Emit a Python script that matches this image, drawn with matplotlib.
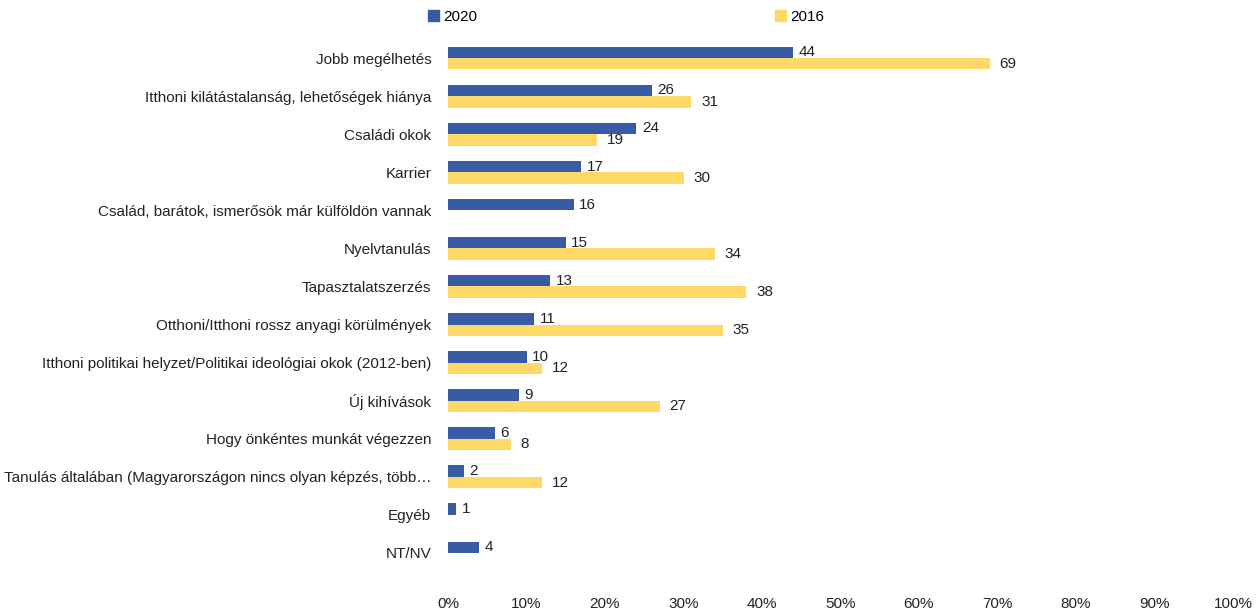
import matplotlib
matplotlib.use("Agg")
import matplotlib.pyplot as plt
from matplotlib.patches import Patch
import numpy as np

categories = [
    "Jobb megélhetés",
    "Itthoni kilátástalanság, lehetőségek hiánya",
    "Családi okok",
    "Karrier",
    "Család, barátok, ismerősök már külföldön vannak",
    "Nyelvtanulás",
    "Tapasztalatszerzés",
    "Otthoni/Itthoni rossz anyagi körülmények",
    "Itthoni politikai helyzet/Politikai ideológiai okok (2012-ben)",
    "Új kihívások",
    "Hogy önkéntes munkát végezzen",
    "Tanulás általában (Magyarországon nincs olyan képzés, több…",
    "Egyéb",
    "NT/NV",
]
values_2020 = [44, 26, 24, 17, 16, 15, 13, 11, 10, 9, 6, 2, 1, 4]
values_2016 = [69, 31, 19, 30, None, 34, 38, 35, 12, 27, 8, 12, None, None]
xticks = [0, 10, 20, 30, 40, 50, 60, 70, 80, 90, 100]

plt.rcParams['font.family'] = ['Liberation Sans Narrow', 'Liberation Sans', 'DejaVu Sans']
FS = 11
c2020 = "#375CA3"
c2016 = "#FFD966"

fig = plt.figure(figsize=(12.56, 6.10), dpi=100)
ax = fig.add_axes([448/1256, 1-572/610, (1233-448)/1256, (572-39)/610])

y = np.arange(len(categories))
h = 0.3
ax.barh(y - h/2, values_2020, height=h, color=c2020)
v16 = [np.nan if v is None else v for v in values_2016]
ax.barh(y + h/2, v16, height=h, color=c2016)

for yi, v in zip(y, values_2020):
    ax.annotate(f"{v}", (v, yi - h/2), xytext=(4, 0), textcoords="offset points",
                va="center", ha="left", fontsize=FS, color="#222222")
for yi, v in zip(y, values_2016):
    if v is None:
        continue
    ax.annotate(f"{v}", (v, yi + h/2), xytext=(7, 0), textcoords="offset points",
                va="center", ha="left", fontsize=FS, color="#222222")

ax.set_xlim(0, 100)
ax.set_ylim(len(categories) - 0.5, -0.5)
ax.set_xticks(xticks)
ax.set_xticklabels([f"{t}%" for t in xticks], fontsize=FS, color="#222222")
ax.set_yticks(y)
ax.set_yticklabels(categories, fontsize=FS, color="#222222")
ax.tick_params(axis="both", length=0)
ax.tick_params(axis="y", pad=12)
ax.tick_params(axis="x", pad=18)
for s in ax.spines.values():
    s.set_visible(False)

handles = [Patch(color=c2020, label="2020"), Patch(color=c2016, label="2016")]
fig.legend(handles=handles, loc="center left", bbox_to_anchor=(428/1256, 1-17/610),
           ncol=2, frameon=False, fontsize=FS, handlelength=0.7, handleheight=0.7,
           handletextpad=0.3, columnspacing=19.5, borderaxespad=0, borderpad=0)

fig.savefig("out.png", dpi=100, facecolor="white")
